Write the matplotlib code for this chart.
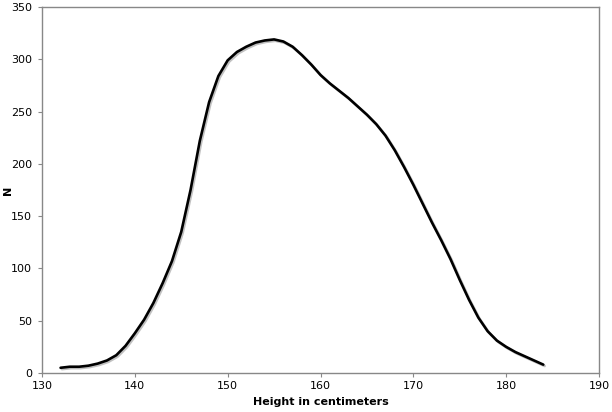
import matplotlib
matplotlib.use("Agg")
import matplotlib.pyplot as plt
import matplotlib.patheffects as pe

# heights (cm) and counts
height = [132, 133, 134, 135, 136, 137, 138, 139, 140, 141, 142, 143, 144,
          145, 146, 147, 148, 149, 150, 151, 152, 153, 154, 155, 156, 157,
          158, 159, 160, 161, 162, 163, 164, 165, 166, 167, 168, 169, 170,
          171, 172, 173, 174, 175, 176, 177, 178, 179, 180, 181, 182, 183, 184]
count = [5, 6, 6, 7, 9, 12, 17, 26, 38, 51, 67, 86, 107,
         135, 175, 222, 259, 284, 299, 307, 312, 316, 318, 319, 317, 312,
         304, 295, 285, 277, 270, 263, 255, 247, 238, 227, 213, 197, 180,
         162, 144, 127, 109, 89, 70, 53, 40, 31, 25, 20, 16, 12, 8]

xticks = [130, 140, 150, 160, 170, 180, 190]
yticks = [0, 50, 100, 150, 200, 250, 300, 350]

fig = plt.figure(figsize=(6.12, 4.12), dpi=100)
ax = fig.add_axes([42/612, 1 - 373/412, 557/612, 366/412])

ax.plot(height, count, color="black", lw=1.9, solid_capstyle="round",
        solid_joinstyle="round",
        path_effects=[pe.SimpleLineShadow(offset=(1, -1), shadow_color="#999999", alpha=0.6),
                      pe.Normal()])

ax.set_xlim(130, 190)
ax.set_ylim(0, 350)
ax.set_xticks(xticks)
ax.set_yticks(yticks)
ax.tick_params(labelsize=8, length=3, color="#888888")
ax.tick_params(axis="x", pad=3)
ax.tick_params(axis="y", pad=4)
for s in ax.spines.values():
    s.set_color("#888888")
    s.set_linewidth(1)

ax.set_xlabel("Height in centimeters", fontsize=8, fontweight="bold", labelpad=4)
ax.set_ylabel("N", fontsize=8, fontweight="bold", va="center")
# keep the label inside the figure, near the left edge as in the original
ax.yaxis.set_label_coords(-34.5/557, 0.5)

fig.savefig("out.png", dpi=100)
